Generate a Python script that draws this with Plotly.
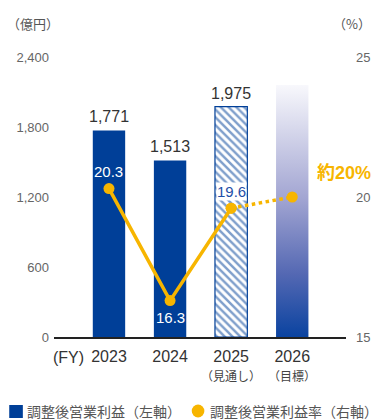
import plotly.graph_objects as go

# Fiscal years and sub-captions
years = ["2023", "2024", "2025", "2026"]
year_notes = ["", "", "（見通し）", "（目標）"]

# Adjusted operating profit (100 million yen), left axis
profit = [1771, 1513, 1975, 2160]
profit_labels = ["1,771", "1,513", "1,975", ""]

# Adjusted operating margin (%), right axis
margin = [20.3, 16.3, 19.6, 20.0]
margin_labels = ["20.3", "16.3", "19.6", "約20%"]

left_ticks = [0, 600, 1200, 1800, 2400]
right_ticks = [15, 20, 25]

BLUE = "#003f98"
YELLOW = "#f7b500"
GREY = "#555555"
NUM_FONT = "Liberation Sans, Noto Sans CJK JP"
JP_FONT = "Noto Sans CJK JP"
BAR_W = 0.53

W, H = 382, 420
L, R, T, B = 54, 28, 57, 83
PW, PH = W - L - R, H - T - B


def px(x, y):
    """Pixel position on the page -> paper coordinates of the plot area."""
    return (x - L) / PW, (H - B - y) / PH


xs = list(range(len(years)))

fig = go.Figure()

# Actual results: solid bars
fig.add_trace(go.Bar(
    x=xs[:2], y=profit[:2], width=BAR_W,
    marker=dict(color=BLUE, line=dict(width=0)),
    yaxis="y", hoverinfo="skip",
))
# Forecast: hatched bar
fig.add_trace(go.Bar(
    x=xs[2:3], y=profit[2:3], width=BAR_W,
    marker=dict(color="white", line=dict(color=BLUE, width=1.2),
                pattern=dict(shape="\\", fgcolor=BLUE, bgcolor="white",
                             size=5.5, solidity=0.45)),
    yaxis="y", hoverinfo="skip",
))
# Target: gradient-filled bar
x3 = xs[3]
fig.add_trace(go.Scatter(
    x=[x3 - BAR_W / 2, x3 + BAR_W / 2, x3 + BAR_W / 2, x3 - BAR_W / 2, x3 - BAR_W / 2],
    y=[0, 0, profit[3], profit[3], 0],
    mode="lines", line=dict(width=0), fill="toself",
    fillgradient=dict(type="vertical", start=0, stop=profit[3],
                      colorscale=[[0, "#0a43a0"], [0.25, "#5468b3"],
                                  [0.55, "#a2a5d2"], [1, "#f8f8fc"]]),
    yaxis="y", hoverinfo="skip",
))

# Margin line: actual/forecast solid, target dotted
fig.add_trace(go.Scatter(
    x=xs[:3], y=margin[:3], mode="lines+markers",
    line=dict(color=YELLOW, width=3.5),
    marker=dict(color=YELLOW, size=11),
    yaxis="y2", hoverinfo="skip",
))
fig.add_trace(go.Scatter(
    x=xs[2:], y=margin[2:], mode="lines+markers",
    line=dict(color=YELLOW, width=3.5, dash="dot"),
    marker=dict(color=YELLOW, size=11),
    yaxis="y2", hoverinfo="skip",
))

ann = []
# Profit value labels above bars
for i, t in enumerate(profit_labels):
    if t:
        ann.append(dict(x=xs[i], y=profit[i], xref="x", yref="y", text=t,
                        showarrow=False, yanchor="bottom", yshift=3,
                        font=dict(family=NUM_FONT, size=16, color="#333333")))
# Margin value labels
ann.append(dict(x=xs[0], y=margin[0], xref="x", yref="y2", text=margin_labels[0],
                showarrow=False, yanchor="bottom", yshift=7,
                font=dict(family=NUM_FONT, size=15, color="white")))
ann.append(dict(x=xs[1], y=margin[1], xref="x", yref="y2", text=margin_labels[1],
                showarrow=False, yanchor="top", yshift=-6,
                font=dict(family=NUM_FONT, size=15, color="white")))
ann.append(dict(x=xs[2], y=margin[2], xref="x", yref="y2", text=margin_labels[2],
                showarrow=False, yanchor="bottom", yshift=7, bgcolor="white",
                borderpad=0,
                font=dict(family=NUM_FONT, size=15, color="#1f4fa8")))
ann.append(dict(x=xs[3], y=margin[3], xref="x", yref="y2", text="<b>" + margin_labels[3] + "</b>",
                showarrow=False, xanchor="left", yanchor="middle", xshift=23, yshift=24,
                font=dict(family=NUM_FONT, size=18, color=YELLOW)))

# Year sub-captions
for i, t in enumerate(year_notes):
    if t:
        ann.append(dict(x=xs[i], y=0, xref="x", yref="y", text=t, showarrow=False,
                        yanchor="middle", yshift=-38,
                        font=dict(family=JP_FONT, size=12, color="#444444")))


def page_text(x, y, text, size, color, xanchor="left", family=JP_FONT):
    xp, yp = px(x, y)
    ann.append(dict(x=xp, y=yp, xref="paper", yref="paper", text=text,
                    showarrow=False, xanchor=xanchor, yanchor="middle",
                    font=dict(family=family, size=size, color=color)))


# Axis unit captions
page_text(4, 23, "（億円）", 13, GREY)
page_text(382, 23, "（%）", 13, GREY, xanchor="right")
page_text(69, 357, "(FY)", 16, "#333333", xanchor="center", family=NUM_FONT)

# Legend entries
page_text(24, 410.5, "調整後営業利益（左軸）", 14, GREY)
page_text(212, 410.5, "調整後営業利益率（右軸）", 14, GREY)

sx0, sy0 = px(8, 418)
sx1, sy1 = px(22, 405)
cx0, cy0 = px(195.5, 417.5)
cx1, cy1 = px(208.5, 404.5)
shapes = [
    dict(type="rect", xref="paper", yref="paper", x0=sx0, x1=sx1, y0=sy0, y1=sy1,
         fillcolor=BLUE, line=dict(width=0)),
    dict(type="circle", xref="paper", yref="paper", x0=cx0, x1=cx1, y0=cy0, y1=cy1,
         fillcolor=YELLOW, line=dict(width=0)),
]

fig.update_layout(
    width=W, height=H,
    margin=dict(l=L, r=R, t=T, b=B),
    paper_bgcolor="white", plot_bgcolor="white",
    showlegend=False, barmode="overlay",
    font=dict(family=NUM_FONT, color=GREY),
    xaxis=dict(range=[-0.9, 3.88], tickvals=xs, ticktext=years,
               showgrid=False, zeroline=False, showline=True,
               linecolor="#222222", linewidth=1.5, ticks="",
               tickfont=dict(family=NUM_FONT, size=16, color="#333333"),
               ticklabelstandoff=4),
    yaxis=dict(range=[0, 2400], tickvals=left_ticks, tickformat=",",
               showgrid=False, zeroline=False, showline=False, ticks="",
               tickfont=dict(family=NUM_FONT, size=13, color="#666666"),
               ticklabelstandoff=4),
    yaxis2=dict(range=[15, 25], tickvals=right_ticks, overlaying="y", side="right",
                showgrid=False, zeroline=False, showline=False, ticks="",
                tickfont=dict(family=NUM_FONT, size=13, color="#666666"),
                ticklabelstandoff=9),
    annotations=ann, shapes=shapes,
)

fig.write_html("out.html")
